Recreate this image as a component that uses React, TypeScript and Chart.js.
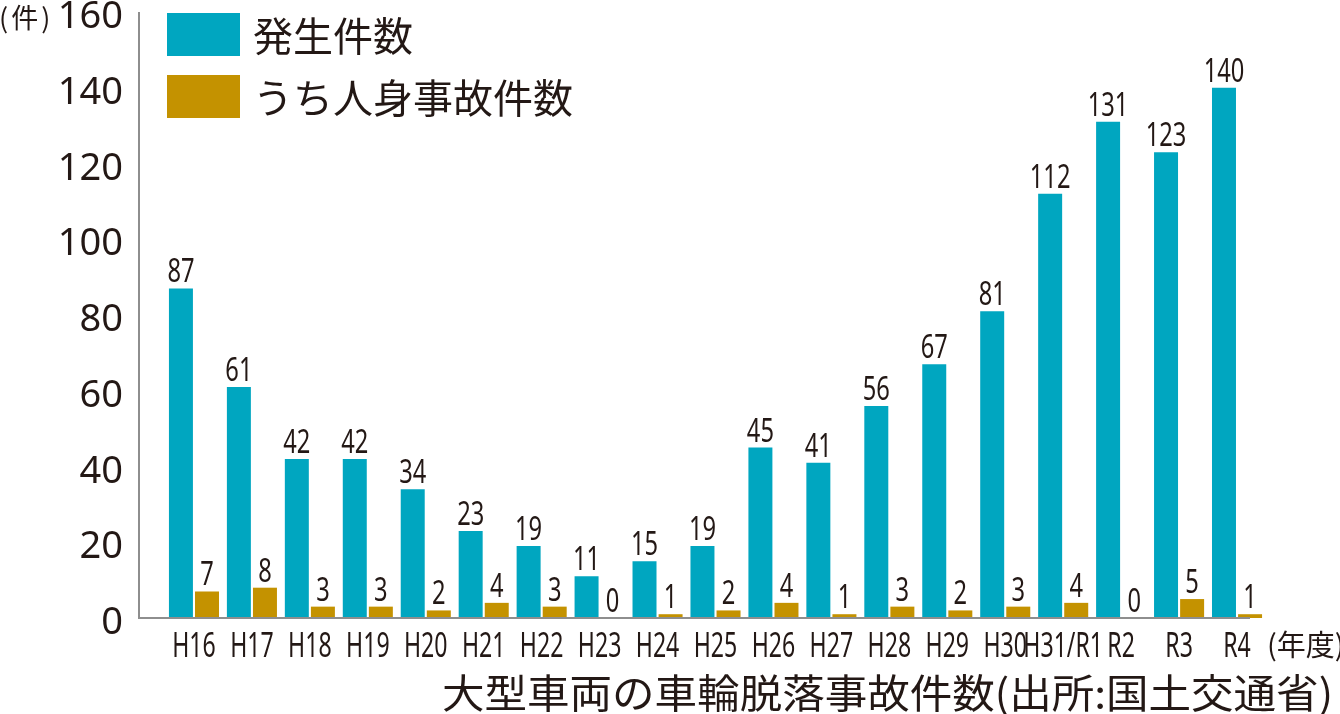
import React, { useEffect, useRef } from "react";
import { Chart, registerables } from "chart.js";

Chart.register(...registerables);

// ---- data ----
const categories = ["H16", "H17", "H18", "H19", "H20", "H21", "H22", "H23", "H24", "H25", "H26", "H27", "H28", "H29", "H30", "H31/R1", "R2", "R3", "R4"];
const occurrences = [87, 61, 42, 42, 34, 23, 19, 11, 15, 19, 45, 41, 56, 67, 81, 112, 131, 123, 140];
const injuries = [7, 8, 3, 3, 2, 4, 3, 0, 1, 2, 4, 1, 3, 2, 3, 4, 0, 5, 1];
const yTicks = [0, 20, 40, 60, 80, 100, 120, 140, 160];
const seriesLabels = ["発生件数", "うち人身事故件数"];
const yUnitLabel = "(件)";
const xUnitLabel = "(年度)";
const chartTitle = "大型車両の車輪脱落事故件数(出所:国土交通省)";

const TEAL = "#00A6C0";
const GOLD = "#C49200";
const INK = "#231815";
const AXIS = "#8e8e8e";
const JP = '"Noto Sans CJK JP", "Noto Sans", sans-serif';
const NUM = '"Noto Sans", "DejaVu Sans", sans-serif';

function drawScaled(ctx: CanvasRenderingContext2D, text: string, x: number, y: number, sx: number, align: CanvasTextAlign) {
  ctx.save();
  ctx.translate(x, y);
  ctx.scale(sx, 1);
  ctx.textAlign = align;
  ctx.fillText(text, 0, 0);
  ctx.restore();
}

const decorPlugin = {
  id: "decor",
  afterDatasetsDraw(chart: any) {
    const { ctx, chartArea, scales } = chart;
    const xs = scales.x;
    const ys = scales.y;
    const axisX = chartArea.left - 26;
    const base = ys.getPixelForValue(0);
    const top = ys.getPixelForValue(yTicks[yTicks.length - 1]);

    ctx.save();
    // axis lines
    ctx.strokeStyle = AXIS;
    ctx.lineWidth = 2;
    ctx.beginPath();
    ctx.moveTo(axisX, top);
    ctx.lineTo(axisX, base);
    ctx.lineTo(chartArea.right - 16, base);
    ctx.stroke();

    ctx.fillStyle = INK;
    ctx.textBaseline = "alphabetic";

    // y tick labels
    ctx.font = `38px ${NUM}`;
    ctx.textAlign = "right";
    yTicks.forEach((v) => {
      ctx.fillText(String(v), axisX - 16, ys.getPixelForValue(v) + 16);
    });

    // unit label
    ctx.font = `27px ${JP}`;
    ctx.textAlign = "left";
    ctx.textBaseline = "middle";
    (ctx as any).letterSpacing = "3px";
    ctx.fillText(yUnitLabel, -1, 18);
    (ctx as any).letterSpacing = "0px";

    // x labels
    ctx.textBaseline = "alphabetic";
    ctx.font = `34px ${NUM}`;
    categories.forEach((c, i) => {
      drawScaled(ctx, c, xs.getPixelForValue(i), 657, 0.68, "center");
    });

    // x unit label
    ctx.font = `29px ${JP}`;
    ctx.textBaseline = "middle";
    ctx.textAlign = "left";
    ctx.fillText(xUnitLabel, 1267, 645);

    // data labels
    ctx.textBaseline = "alphabetic";
    ctx.font = `32px ${NUM}`;
    chart.data.datasets.forEach((ds: any, di: number) => {
      const meta = chart.getDatasetMeta(di);
      meta.data.forEach((bar: any, i: number) => {
        drawScaled(ctx, String(ds.data[i]), bar.x, bar.y - 6, 0.74, "center");
      });
    });

    // legend
    const boxes = [13, 75];
    chart.data.datasets.forEach((ds: any, di: number) => {
      ctx.fillStyle = ds.backgroundColor;
      ctx.fillRect(167, boxes[di], 73, 43);
      ctx.fillStyle = INK;
      ctx.font = `40px ${JP}`;
      ctx.textAlign = "left";
      ctx.textBaseline = "middle";
      ctx.fillText(ds.label, 253, boxes[di] + 23);
    });

    // title
    ctx.font = `40px ${JP}`;
    ctx.textBaseline = "middle";
    (ctx as any).letterSpacing = "0px";
    const w = ctx.measureText(chartTitle).width;
    drawScaled(ctx, chartTitle, 442, 693, 891 / w, "left");
    ctx.restore();
  },
};

export default function App() {
  const ref = useRef<HTMLCanvasElement | null>(null);

  useEffect(() => {
    document.body.style.margin = "0";
    const canvas = ref.current;
    if (!canvas) return;
    const chart = new Chart(canvas, {
      type: "bar",
      data: {
        labels: categories,
        datasets: [
          {
            label: seriesLabels[0],
            data: occurrences,
            backgroundColor: TEAL,
            categoryPercentage: 0.9,
            barPercentage: 0.92,
          },
          {
            label: seriesLabels[1],
            data: injuries,
            backgroundColor: GOLD,
            categoryPercentage: 0.9,
            barPercentage: 0.92,
          },
        ],
      },
      options: {
        responsive: false,
        animation: false,
        layout: { padding: { left: 165, right: 74, top: 12, bottom: 96 } },
        plugins: {
          legend: { display: false },
          tooltip: { enabled: false },
          title: { display: false },
        },
        scales: {
          x: { display: false, offset: true },
          y: { display: false, min: 0, max: 160, ticks: { stepSize: 20 } },
        },
      },
      plugins: [decorPlugin],
    });
    return () => chart.destroy();
  }, []);

  return (
    <div style={{ position: "fixed", left: 0, top: 0, width: 1340, height: 714, background: "#fff" }}>
      <canvas ref={ref} width={1340} height={714} style={{ display: "block", width: 1340, height: 714 }} />
    </div>
  );
}
